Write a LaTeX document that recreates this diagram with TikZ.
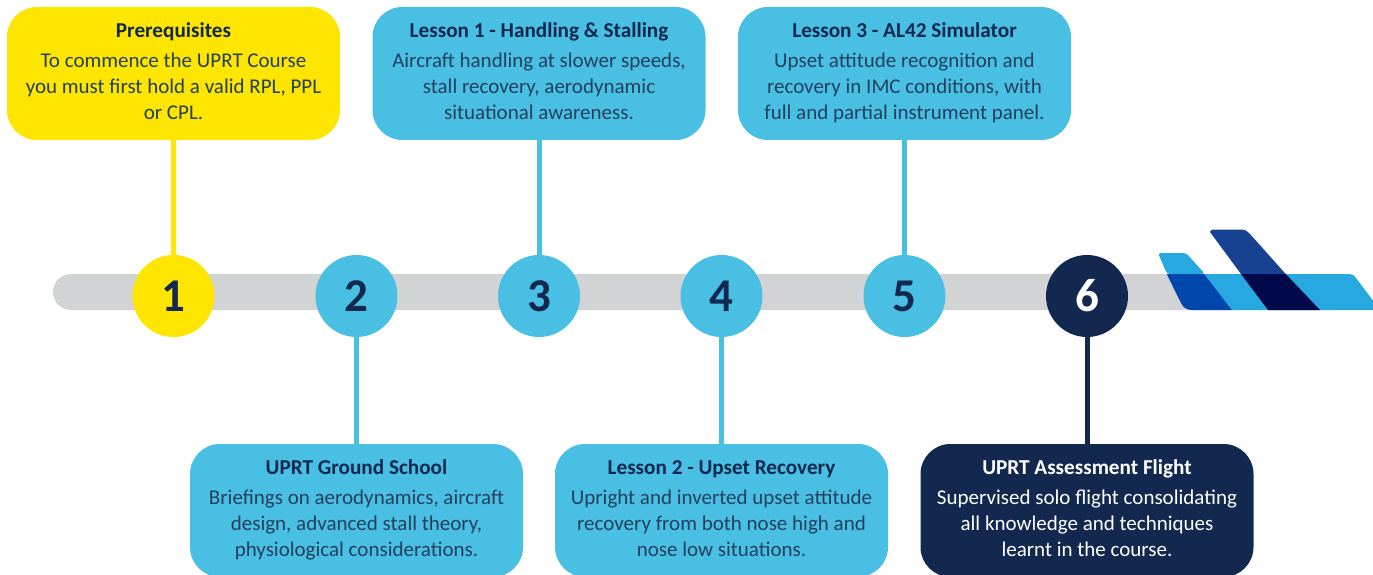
\documentclass[tikz,border=0pt]{standalone}
\usepackage{fontspec}
\setmainfont{Carlito}
\definecolor{ink}{HTML}{12284F}
\definecolor{sky}{HTML}{48BFE3}
\definecolor{sun}{HTML}{FFE600}
\definecolor{barg}{HTML}{D1D3D4}
\definecolor{planeL}{HTML}{27A8E0}
\definecolor{planeM}{HTML}{0047AB}
\definecolor{planeD}{HTML}{174291}
\definecolor{planeK}{HTML}{000A4A}
\definecolor{bodyink}{HTML}{23405F}
\tikzset{
 x=1pt,y=-1pt,
 card/.style={rounded corners=30pt,minimum width=333pt,minimum height=133pt,inner sep=0pt,align=flush center,text width=330pt,
   font=\fontsize{21}{26}\selectfont,text=bodyink},
 dot/.style={circle,minimum size=82pt,inner sep=0pt,font=\fontsize{47}{47}\selectfont\bfseries,text=ink},
 link/.style={line width=5pt}
}
\newcommand{\cardtitle}[1]{{\fontsize{21.2}{26}\selectfont\bfseries\color{ink}#1}\strut\\[4pt]}
\newcommand{\cardtitlew}[1]{{\fontsize{21.2}{26}\selectfont\bfseries\color{white}#1}\strut\\[4pt]}
\begin{document}
\begin{tikzpicture}
\useasboundingbox[fill=white] (0,0) rectangle (1373,575);
% bar
\fill[barg,rounded corners=18pt] (53,274) rectangle (1215,310);
% plane
\fill[planeL,rounded corners=3pt] (1158,253) -- (1186,253) -- (1205,274) -- (1167,274) -- cycle;
\fill[planeL] (1203,274) -- (1349,274) .. controls (1352,274) and (1354,275) .. (1356,278) -- (1380,310) -- (1231,310) -- cycle;
\fill[planeM] (1166.7,274) -- (1204,274) -- (1231.7,310) -- (1192,310) .. controls (1186,310) and (1183,307) .. (1181,303) -- cycle;
\fill[planeD] (1210,232) .. controls (1210,230) and (1212,229.5) .. (1214,229.5) -- (1242,229.5) .. controls (1246,230) and (1248,232) .. (1250,234) -- (1285.7,274) -- (1241,274) -- cycle;
\fill[planeK] (1241,274) -- (1285.7,274) -- (1320,310) -- (1268,310) -- cycle;
% cards
\node[card,fill=sun] (c1) at (173.5,73.5) {\cardtitle{Prerequisites}To commence the UPRT Course\\you must first hold a valid RPL, PPL\\or CPL.\strut};
\node[card,fill=sky] (c3) at (539,73.5) {\cardtitle{Lesson 1 - Handling \& Stalling}Aircraft handling at slower speeds,\\stall recovery, aerodynamic\\situational awareness.\strut};
\node[card,fill=sky] (c5) at (904.5,73.5) {\cardtitle{Lesson 3 - AL42 Simulator}Upset attitude recognition and\\recovery in IMC conditions, with\\full and partial instrument panel.\strut};
\node[card,fill=sky] (c2) at (356.5,510.5) {\cardtitle{UPRT Ground School}Briefings on aerodynamics, aircraft\\design, advanced stall theory,\\physiological considerations.\strut};
\node[card,fill=sky] (c4) at (721.5,510.5) {\cardtitle{Lesson 2 - Upset Recovery}Upright and inverted upset attitude\\recovery from both nose high and\\nose low situations.\strut};
\node[card,fill=ink,text=white] (c6) at (1087,510.5) {\cardtitlew{UPRT Assessment Flight}Supervised solo flight consolidating\\all knowledge and techniques\\learnt in the course.\strut};
% markers
\node[dot,fill=sun] (d1) at (173.5,296) {1};
\node[dot,fill=sky] (d2) at (356.5,296) {2};
\node[dot,fill=sky] (d3) at (539,296) {3};
\node[dot,fill=sky] (d4) at (721.5,296) {4};
\node[dot,fill=sky] (d5) at (904.5,296) {5};
\node[dot,fill=ink,text=white] (d6) at (1087,296) {6};
% connectors
\draw[link,sun] (c1) -- (d1);
\draw[link,sky] (c3) -- (d3);
\draw[link,sky] (c5) -- (d5);
\draw[link,sky] (d2) -- (c2);
\draw[link,sky] (d4) -- (c4);
\draw[link,ink] (d6) -- (c6);
\end{tikzpicture}
\end{document}
